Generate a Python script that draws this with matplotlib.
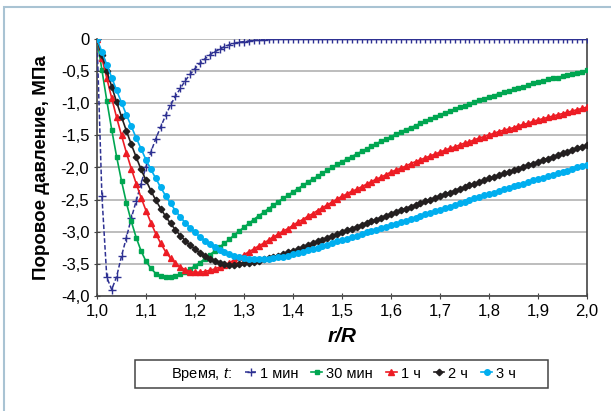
import numpy as np
import matplotlib
matplotlib.use("Agg")
import matplotlib.pyplot as plt
from matplotlib.lines import Line2D
from matplotlib.patches import Rectangle

plt.rcParams['font.family'] = ['Liberation Sans Narrow', 'Liberation Sans', 'DejaVu Sans']
plt.rcParams['mathtext.fontset'] = 'custom'
plt.rcParams['mathtext.it'] = 'Liberation Sans:italic'

# r/R sampled every 0.01
r = np.linspace(1.0, 2.0, 101)

p_1min = [0.0, -2.44, -3.71, -3.90, -3.70, -3.38, -3.09, -2.79, -2.52, -2.25,
          -1.99, -1.76, -1.55, -1.37, -1.19, -1.03, -0.89, -0.77, -0.65, -0.55,
          -0.46, -0.38, -0.31, -0.25, -0.20, -0.16, -0.12, -0.09, -0.07, -0.05,
          -0.04, -0.03, -0.02, -0.015, -0.01, -0.007, -0.005, -0.003, -0.002, -0.001,
          0.0, 0.0, 0.0, 0.0, 0.0, 0.0, 0.0, 0.0, 0.0, 0.0,
          0.0, 0.0, 0.0, 0.0, 0.0, 0.0, 0.0, 0.0, 0.0, 0.0,
          0.0, 0.0, 0.0, 0.0, 0.0, 0.0, 0.0, 0.0, 0.0, 0.0,
          0.0, 0.0, 0.0, 0.0, 0.0, 0.0, 0.0, 0.0, 0.0, 0.0,
          0.0, 0.0, 0.0, 0.0, 0.0, 0.0, 0.0, 0.0, 0.0, 0.0,
          0.0, 0.0, 0.0, 0.0, 0.0, 0.0, 0.0, 0.0, 0.0, 0.0,
          0.0]

p_30min = [0.0, -0.48, -0.96, -1.41, -1.83, -2.21, -2.55, -2.84, -3.09, -3.30,
           -3.46, -3.57, -3.65, -3.69, -3.71, -3.71, -3.69, -3.66, -3.62, -3.58,
           -3.53, -3.48, -3.42, -3.36, -3.30, -3.24, -3.18, -3.12, -3.05, -2.99,
           -2.93, -2.87, -2.81, -2.75, -2.70, -2.64, -2.59, -2.53, -2.48, -2.43,
           -2.38, -2.33, -2.28, -2.23, -2.18, -2.14, -2.09, -2.04, -2.00, -1.95,
           -1.91, -1.87, -1.83, -1.79, -1.75, -1.71, -1.67, -1.63, -1.59, -1.56,
           -1.52, -1.48, -1.45, -1.41, -1.38, -1.35, -1.31, -1.28, -1.25, -1.21,
           -1.18, -1.15, -1.12, -1.09, -1.06, -1.04, -1.01, -0.98, -0.95, -0.93,
           -0.90, -0.88, -0.85, -0.83, -0.81, -0.78, -0.76, -0.74, -0.72, -0.69,
           -0.67, -0.65, -0.63, -0.61, -0.60, -0.58, -0.56, -0.54, -0.53, -0.51,
           -0.49]

p_1h = [0.0, -0.30, -0.61, -0.92, -1.22, -1.50, -1.77, -2.02, -2.25, -2.47,
        -2.67, -2.86, -3.03, -3.18, -3.31, -3.41, -3.49, -3.55, -3.59, -3.62,
        -3.63, -3.63, -3.62, -3.60, -3.58, -3.55, -3.52, -3.48, -3.44, -3.40,
        -3.36, -3.31, -3.27, -3.22, -3.18, -3.13, -3.08, -3.04, -2.99, -2.95,
        -2.90, -2.85, -2.81, -2.76, -2.72, -2.67, -2.63, -2.58, -2.54, -2.49,
        -2.45, -2.41, -2.37, -2.34, -2.30, -2.26, -2.22, -2.18, -2.15, -2.11,
        -2.07, -2.04, -2.01, -1.98, -1.94, -1.91, -1.88, -1.85, -1.82, -1.79,
        -1.76, -1.73, -1.70, -1.68, -1.65, -1.62, -1.60, -1.57, -1.54, -1.52,
        -1.49, -1.47, -1.44, -1.42, -1.40, -1.38, -1.35, -1.33, -1.31, -1.28,
        -1.26, -1.24, -1.22, -1.20, -1.18, -1.16, -1.14, -1.12, -1.10, -1.08,
        -1.06]

p_2h = [0.0, -0.25, -0.50, -0.74, -0.98, -1.21, -1.43, -1.64, -1.84, -2.03,
        -2.20, -2.36, -2.51, -2.64, -2.76, -2.87, -2.97, -3.06, -3.14, -3.21,
        -3.27, -3.33, -3.38, -3.42, -3.46, -3.49, -3.50, -3.51, -3.51, -3.50,
        -3.49, -3.48, -3.465, -3.45, -3.43, -3.41, -3.39, -3.37, -3.35, -3.32,
        -3.30, -3.27, -3.24, -3.21, -3.18, -3.15, -3.13, -3.10, -3.07, -3.04,
        -3.01, -2.98, -2.95, -2.92, -2.89, -2.86, -2.84, -2.81, -2.78, -2.75,
        -2.72, -2.69, -2.66, -2.64, -2.61, -2.58, -2.55, -2.52, -2.50, -2.47,
        -2.44, -2.41, -2.39, -2.36, -2.33, -2.31, -2.28, -2.25, -2.23, -2.20,
        -2.17, -2.15, -2.12, -2.09, -2.07, -2.04, -2.02, -1.99, -1.96, -1.94,
        -1.91, -1.88, -1.86, -1.83, -1.81, -1.78, -1.76, -1.73, -1.70, -1.68,
        -1.65]

p_3h = [0.0, -0.20, -0.40, -0.60, -0.80, -0.99, -1.18, -1.36, -1.54, -1.71,
        -1.88, -2.03, -2.17, -2.31, -2.44, -2.56, -2.67, -2.77, -2.86, -2.94,
        -3.01, -3.08, -3.14, -3.19, -3.24, -3.28, -3.31, -3.34, -3.37, -3.39,
        -3.41, -3.42, -3.43, -3.43, -3.43, -3.42, -3.41, -3.40, -3.39, -3.37,
        -3.35, -3.33, -3.31, -3.29, -3.27, -3.25, -3.22, -3.20, -3.18, -3.15,
        -3.13, -3.11, -3.08, -3.06, -3.04, -3.01, -2.99, -2.97, -2.94, -2.92,
        -2.90, -2.88, -2.85, -2.83, -2.80, -2.78, -2.76, -2.73, -2.71, -2.68,
        -2.66, -2.63, -2.61, -2.58, -2.56, -2.53, -2.51, -2.48, -2.46, -2.43,
        -2.41, -2.39, -2.36, -2.34, -2.32, -2.29, -2.27, -2.25, -2.23, -2.20,
        -2.18, -2.16, -2.14, -2.11, -2.09, -2.07, -2.05, -2.03, -2.00, -1.98,
        -1.96]

series_labels = ["1 мин", "30 мин", "1 ч", "2 ч", "3 ч"]
x_ticks = [1.0, 1.1, 1.2, 1.3, 1.4, 1.5, 1.6, 1.7, 1.8, 1.9, 2.0]
x_ticklabels = ["1,0", "1,1", "1,2", "1,3", "1,4", "1,5", "1,6", "1,7", "1,8", "1,9", "2,0"]
y_ticks = [0.0, -0.5, -1.0, -1.5, -2.0, -2.5, -3.0, -3.5, -4.0]
y_ticklabels = ["0", "-0,5", "-1,0", "-1,5", "-2,0", "-2,5", "-3,0", "-3,5", "-4,0"]

W, H = 611, 411
fig = plt.figure(figsize=(W / 100, H / 100), dpi=100)
# light outer frame, open to the right and bottom
fig.patches.append(Rectangle((4 / W, -0.1), 1.2, 1 - 7 / H + 0.1,
                             transform=fig.transFigure, fill=False,
                             edgecolor='#a9c3d3', linewidth=1.5))
ax = fig.add_axes([97 / W, 1 - 296 / H, 490 / W, 257 / H])

ax.plot(r, p_1min, color='#2e3192', linestyle=(0, (3, 1.5)), linewidth=1.1,
        marker='+', markersize=5.5, markeredgewidth=1.0, label=series_labels[0], zorder=3)
ax.plot(r, p_30min, color='#00a651', linewidth=1.2, marker='s', markersize=3.5,
        label=series_labels[1], zorder=3)
ax.plot(r, p_1h, color='#ed1c24', linewidth=1.2, marker='^', markersize=4,
        label=series_labels[2], zorder=3)
ax.plot(r, p_2h, color='#231f20', linewidth=1.2, marker='D', markersize=3.3,
        label=series_labels[3], zorder=3)
ax.plot(r, p_3h, color='#00aeef', linewidth=1.2, marker='o', markersize=4,
        label=series_labels[4], zorder=3)

ax.set_xlim(1.0, 2.0)
ax.set_ylim(-4.0, 0.0)
ax.set_xticks(x_ticks)
ax.set_xticklabels(x_ticklabels)
ax.set_yticks(y_ticks)
ax.set_yticklabels(y_ticklabels)
ax.tick_params(labelsize=12, direction='inout', length=5, color='#444444', pad=3)
ax.yaxis.grid(True, color='#b8b8b8', linewidth=1.3)
ax.set_axisbelow(True)
for side in ['left', 'bottom', 'right']:
    ax.spines[side].set_color('#444444')
    ax.spines[side].set_linewidth(1.2)
ax.spines['top'].set_visible(False)

ax.set_xlabel("r/R", fontsize=15, fontweight='bold', fontstyle='italic', labelpad=6)
ax.set_ylabel("Поровое давление, МПа", fontsize=13.5, fontweight='bold', labelpad=8)

# legend box drawn separately so its size matches
fig.patches.append(Rectangle((135 / W, 1 - 388 / H), 413 / W, 28 / H,
                             transform=fig.transFigure, fill=False,
                             edgecolor='#444444', linewidth=1.1))
handles, labels = ax.get_legend_handles_labels()
blank = Line2D([], [], color='none')
leg = fig.legend([blank] + handles, ["Время, $t$:"] + labels, ncol=6,
                 loc='center left', bbox_to_anchor=(145 / W, 1 - 374 / H),
                 fontsize=10.5, frameon=False,
                 handlelength=0.75, handletextpad=0.25, columnspacing=0.9,
                 borderpad=0.3)

fig.savefig("out.png", dpi=100)
